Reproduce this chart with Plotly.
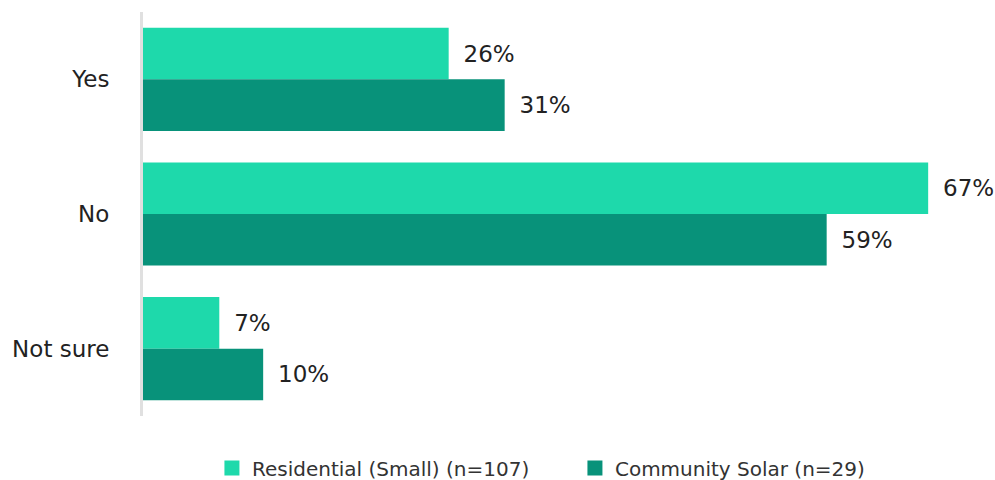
import plotly.graph_objects as go

categories = ["Yes", "No", "Not sure"]
residential = [26.2, 67.3, 6.54]
community = [31.0, 58.6, 10.3]
series_names = ["Residential (Small) (n=107)", "Community Solar (n=29)"]
colors = ["#1ED9AB", "#08927A"]

FONT = "DejaVu Sans, Liberation Sans, Arial, sans-serif"

fig = go.Figure()
for name, vals, col in zip(series_names, [residential, community], colors):
    fig.add_trace(go.Bar(
        y=categories, x=vals, name=name, orientation="h",
        marker=dict(color=col, line=dict(width=0)),
        texttemplate=" \u2009%{x:.0f}%", textposition="outside",
        textfont=dict(size=23, color="#222222", family=FONT),
        cliponaxis=False, hoverinfo="skip", showlegend=False,
    ))
# legend entries (square swatches)
for name, col in zip(series_names, colors):
    fig.add_trace(go.Scatter(
        x=[None], y=[None], mode="markers", name=name,
        marker=dict(symbol="square", size=15, color=col),
        showlegend=True, hoverinfo="skip",
    ))

fig.update_layout(
    width=995, height=480,
    margin=dict(l=143, r=12, t=12, b=64),
    paper_bgcolor="white", plot_bgcolor="white",
    barmode="group", bargap=0.234, bargroupgap=0,
    font=dict(family=FONT, color="#222222"),
    showlegend=True,
    legend=dict(orientation="h", xref="container", x=0.213, xanchor="left",
                yref="container", y=0.025, yanchor="middle",
                font=dict(size=20, color="#333333", family=FONT), traceorder="normal",
                itemwidth=30, entrywidth=318, bgcolor="rgba(0,0,0,0)"),
    xaxis=dict(range=[0, 72], showgrid=False, showticklabels=False, zeroline=False,
               showline=False, fixedrange=True),
    yaxis=dict(autorange="reversed", showgrid=False, showline=True, linecolor="#E0E0E0",
               linewidth=3, ticks="", ticklabelstandoff=26,
               tickfont=dict(size=23, color="#222222", family=FONT)),
)

fig.write_html("out.html")
